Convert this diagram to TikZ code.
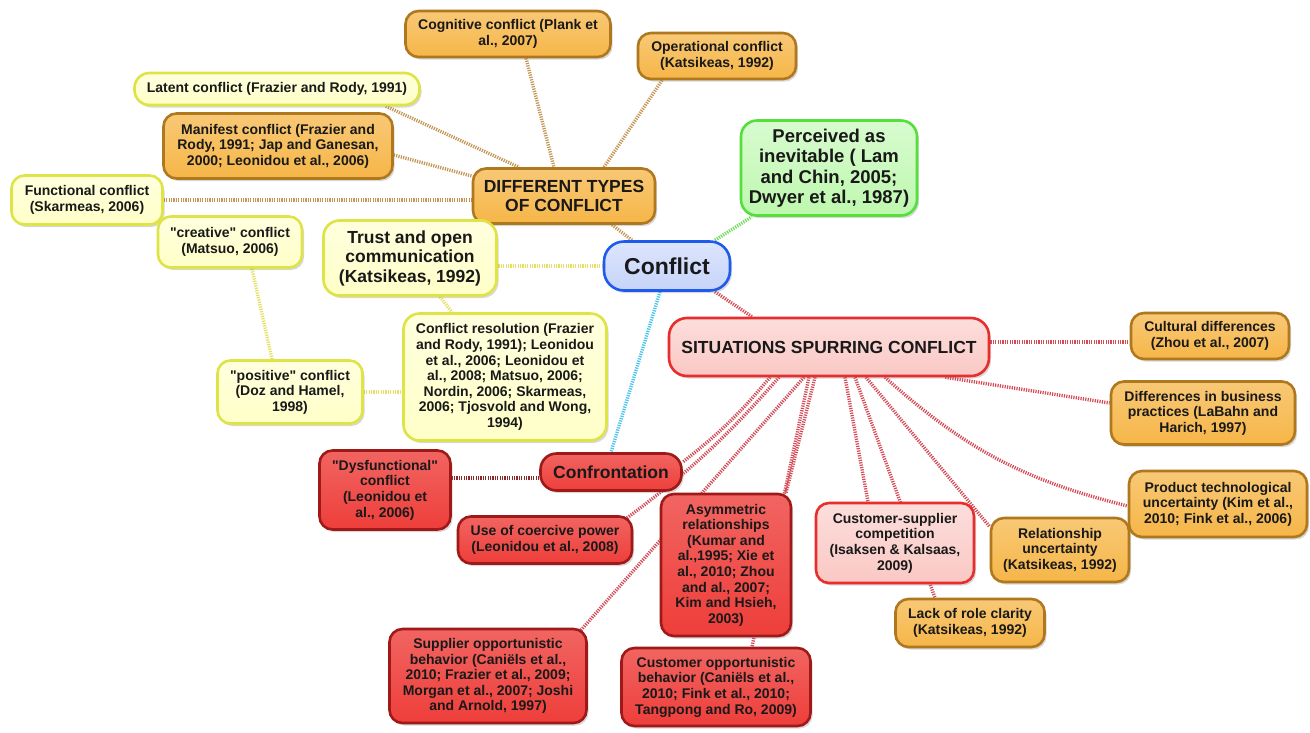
\documentclass[tikz,border=0pt]{standalone}
\usepackage{fontspec}
\setmainfont{Liberation Sans}
\usetikzlibrary{shadows,backgrounds}
\definecolor{orF}{RGB}{246,182,72}
\definecolor{orD}{RGB}{176,120,30}
\definecolor{yeF}{RGB}{255,255,200}
\definecolor{yeD}{RGB}{222,228,70}
\definecolor{grF}{RGB}{190,248,175}
\definecolor{grD}{RGB}{85,222,60}
\definecolor{blF}{RGB}{198,212,250}
\definecolor{blD}{RGB}{30,90,235}
\definecolor{pkF}{RGB}{250,200,196}
\definecolor{pkD}{RGB}{232,45,45}
\definecolor{rdF}{RGB}{238,62,58}
\definecolor{rdD}{RGB}{160,25,25}
\definecolor{eOr}{RGB}{196,150,85}
\definecolor{eYe}{RGB}{228,224,100}
\definecolor{eGr}{RGB}{110,220,90}
\definecolor{eCy}{RGB}{70,195,235}
\definecolor{eRd}{RGB}{212,75,85}
\definecolor{eDk}{RGB}{140,40,40}
\newcommand\fsS{\fontsize{14}{15.6}\selectfont\bfseries}
\newcommand\fsM{\fontsize{17.5}{19.5}\selectfont\bfseries}
\newcommand\fsP{\fontsize{18.5}{20.5}\selectfont\bfseries}
\newcommand\fsL{\fontsize{23}{26}\selectfont\bfseries}
\newcommand\qq{\textquotedbl}
\tikzset{
  box/.style={rounded corners=13pt, line width=2.6pt, align=center, inner sep=1pt,
    font=\fsS, text=black!90,
    drop shadow={shadow xshift=2pt, shadow yshift=-2.5pt, opacity=0.3}},
  obox/.style={box, draw=orD, top color=orF!75!white, bottom color=orF},
  ybox/.style={box, draw=yeD, top color=yeF!60!white, bottom color=yeF},
  gbox/.style={box, draw=grD, top color=grF!60!white, bottom color=grF},
  bbox/.style={box, draw=blD, top color=blF!60!white, bottom color=blF},
  pbox/.style={box, draw=pkD, top color=pkF!60!white, bottom color=pkF},
  rbox/.style={box, draw=rdD, top color=rdF!80!white, bottom color=rdF},
  con/.style={line width=3.4pt, dash pattern=on 1.2pt off 1.2pt},
}
\begin{document}
\begin{tikzpicture}[x=1pt,y=-1pt]
\useasboundingbox (0,0) rectangle (1310,732);
% nodes
\node[obox, minimum width=205pt, minimum height=46pt] (cog) at (508,34) {Cognitive conflict (Plank et\\al., 2007)};
\node[obox, minimum width=158pt, minimum height=46pt] (oper) at (717,56) {Operational conflict\\(Katsikeas, 1992)};
\node[ybox, minimum width=285pt, minimum height=32pt, rounded corners=15pt] (lat) at (277,89) {Latent conflict (Frazier and Rody, 1991)};
\node[obox, minimum width=229pt, minimum height=65pt] (man) at (278,146) {Manifest conflict (Frazier and\\Rody, 1991; Jap and Ganesan,\\2000; Leonidou et al., 2006)};
\node[ybox, minimum width=151pt, minimum height=49pt] (func) at (87,200) {Functional conflict\\(Skarmeas, 2006)};
\node[obox, font=\fsM, minimum width=182pt, minimum height=55pt] (dt) at (564,196) {DIFFERENT TYPES\\OF CONFLICT};
\node[gbox, font=\fsP, minimum width=176pt, minimum height=95pt, rounded corners=16pt] (perc) at (829,168) {Perceived as\\inevitable ( Lam\\and Chin, 2005;\\Dwyer et al., 1987)};
\node[ybox, minimum width=144pt, minimum height=51pt] (crea) at (230,242) {\qq creative\qq{} conflict\\(Matsuo, 2006)};
\node[ybox, font=\fsM, minimum width=173pt, minimum height=75pt, rounded corners=16pt] (trust) at (410,258) {Trust and open\\communication\\(Katsikeas, 1992)};
\node[bbox, font=\fsL, minimum width=126pt, minimum height=49pt, rounded corners=20pt] (conf) at (667,266) {Conflict};
\node[ybox, minimum width=203pt, minimum height=127pt, rounded corners=16pt] (res) at (505,377) {Conflict resolution (Frazier\\and Rody, 1991); Leonidou\\et al., 2006; Leonidou et\\al., 2008; Matsuo, 2006;\\Nordin, 2006; Skarmeas,\\2006; Tjosvold and Wong,\\1994)};
\node[ybox, minimum width=145pt, minimum height=63pt] (pos) at (290,392) {\qq positive\qq{} conflict\\(Doz and Hamel,\\1998)};
\node[pbox, font=\fsM, minimum width=320pt, minimum height=58pt, rounded corners=18pt] (sit) at (829,347) {SITUATIONS SPURRING CONFLICT};
\node[obox, minimum width=158pt, minimum height=46pt] (cult) at (1210,336) {Cultural differences\\(Zhou et al., 2007)};
\node[obox, minimum width=184pt, minimum height=63pt] (diff) at (1203,413) {Differences in business\\practices (LaBahn and\\Harich, 1997)};
\node[obox, minimum width=178pt, minimum height=66pt] (prod) at (1218,504) {Product technological\\uncertainty (Kim et al.,\\2010; Fink et al., 2006)};
\node[rbox, font=\fsM, minimum width=141pt, minimum height=37pt, rounded corners=16pt] (cfr) at (611,472) {Confrontation};
\node[rbox, minimum width=131pt, minimum height=79pt] (dys) at (385,490) {\qq Dysfunctional\qq\\conflict\\(Leonidou et\\al., 2006)};
\node[rbox, minimum width=174pt, minimum height=47pt] (coer) at (545,540) {Use of coercive power\\(Leonidou et al., 2008)};
\node[rbox, minimum width=130pt, minimum height=142pt] (asym) at (726,565) {Asymmetric\\relationships\\(Kumar and\\al.,1995; Xie et\\al., 2010; Zhou\\and al., 2007;\\Kim and Hsieh,\\2003)};
\node[pbox, minimum width=158pt, minimum height=80pt] (cs) at (895,543) {Customer-supplier\\competition\\(Isaksen \& Kalsaas,\\2009)};
\node[obox, minimum width=138pt, minimum height=64pt] (rel) at (1060,550) {Relationship\\uncertainty\\(Katsikeas, 1992)};
\node[obox, minimum width=149pt, minimum height=48pt] (lack) at (970,623) {Lack of role clarity\\(Katsikeas, 1992)};
\node[rbox, minimum width=197pt, minimum height=94pt] (sup) at (488,676) {Supplier opportunistic\\behavior (Caniëls et al.,\\2010; Frazier et al., 2009;\\Morgan et al., 2007; Joshi\\and Arnold, 1997)};
\node[rbox, minimum width=189pt, minimum height=78pt] (cust) at (716,687) {Customer opportunistic\\behavior (Caniëls et al.,\\2010; Fink et al., 2010;\\Tangpong and Ro, 2009)};
% connectors
\begin{scope}[on background layer]
\fill[white] (0,0) rectangle (1310,732);
\draw[con, eOr] ([xshift=-35pt]lat.south east) -- ([xshift=-45pt]dt.north);
\draw[con, eOr] ([yshift=-9pt]man.east) -- ([yshift=20pt]dt.west);
\draw[con, eOr] (func.east) -- (func.east -| dt.west);
\draw[con, eOr] ([xshift=18pt]cog.south) -- ([xshift=-10pt]dt.north);
\draw[con, eOr] ([xshift=-55pt]oper.south) -- ([xshift=40pt]dt.north);
\draw[con, eOr] ([xshift=-35pt]conf.north) -- ([xshift=48pt]dt.south);
\draw[con, eGr] ([xshift=48pt]conf.north) -- ([xshift=12pt]perc.south west);
\draw[con, eYe] (conf.west) -- (conf.west -| trust.east);
\draw[con, eRd] ([xshift=48pt]conf.south) -- ([xshift=-77pt]sit.north);
\draw[con, eCy] ([xshift=-7pt]conf.south) -- (cfr.north);
\draw[con, eYe] ([xshift=30pt]trust.south) -- ([xshift=-53pt]res.north);
\draw[con, eYe] (pos.east) -- (pos.east -| res.west);
\draw[con, eYe] ([xshift=-18pt]pos.north) -- ([xshift=22pt]crea.south);
\draw[con, eDk] ([yshift=-6pt]cfr.west) -- ([yshift=-6pt]cfr.west -| dys.east);
\draw[con, eRd] ([yshift=5pt]sit.east) -- ([yshift=5pt]sit.east -| cult.west);
\draw[con, eRd] ([xshift=-45pt]sit.south east) -- ([yshift=10pt]diff.west);
\draw[con, eRd] ([xshift=56pt]sit.south) to[bend right=14] ([yshift=-2pt]prod.west);
\draw[con, eRd] ([xshift=37pt]sit.south) -- ([yshift=-10pt]rel.north west);
\draw[con, eRd] ([xshift=16pt]sit.south) -- ([xshift=-27pt]cs.north);
\draw[con, eRd] ([xshift=26pt]sit.south) -- ([xshift=-35pt]lack.north);
\draw[con, eRd] ([xshift=-14pt]sit.south) -- ([xshift=60pt]asym.north);
\draw[con, eRd] ([xshift=-20pt]sit.south) -- ([xshift=36pt]cust.north);
\draw[con, eRd] ([xshift=-25pt]sit.south) -- ([xshift=-10pt,yshift=-6pt]sup.north east);
\draw[con, eRd] ([xshift=-59pt]sit.south) to[bend left=6] ([yshift=10pt]cfr.east);
\draw[con, eRd] ([xshift=-50pt]sit.south) to[bend left=6] ([xshift=-8pt,yshift=-4pt]coer.north east);
\end{scope}
\end{tikzpicture}
\end{document}
